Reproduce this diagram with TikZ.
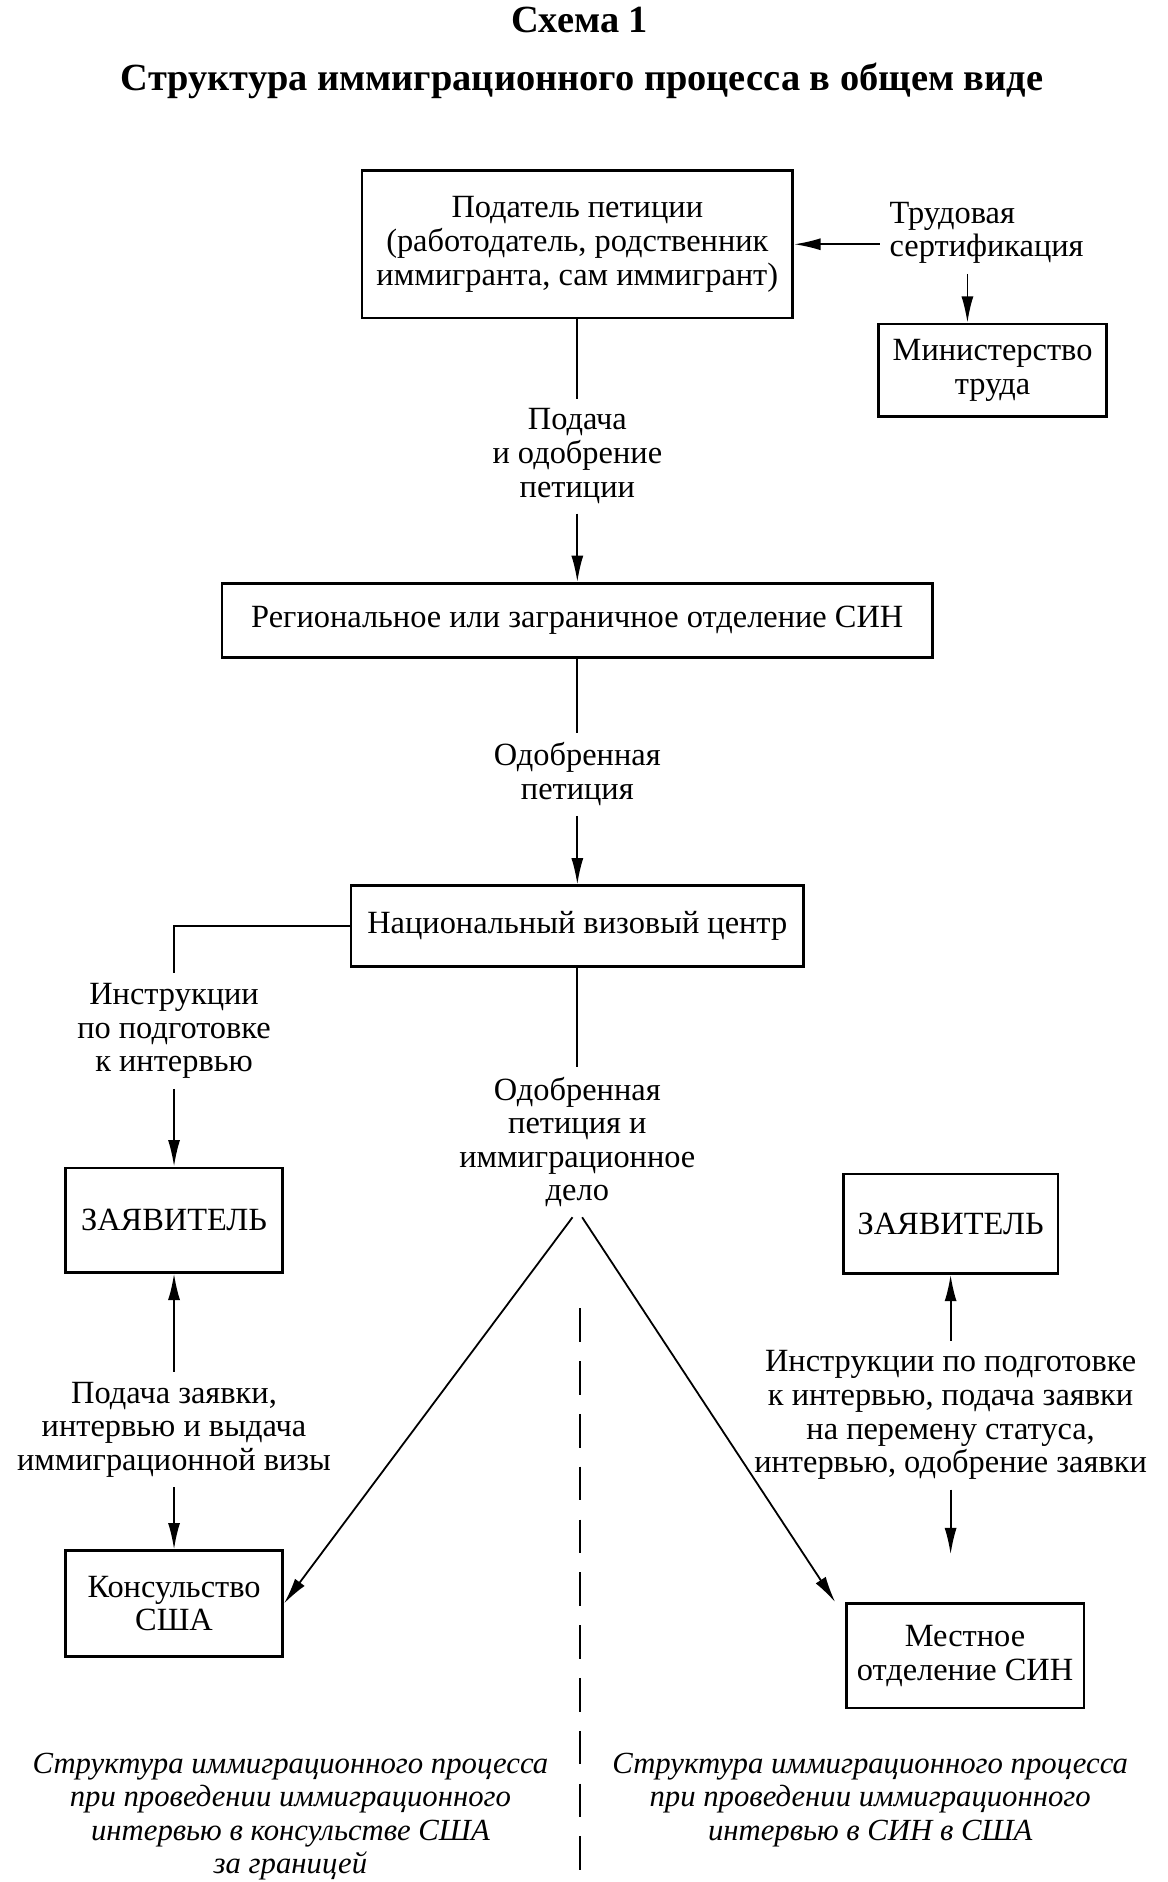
\documentclass[tikz,border=0pt]{standalone}
\usepackage{fontspec}
\setmainfont{Liberation Serif}
\usetikzlibrary{arrows.meta}

\begin{document}
\begin{tikzpicture}[x=0.5pt, y=-0.5pt,
    % Styles
    every node/.style={font=\fontsize{13.5}{14}\selectfont},
    box/.style={draw, line width=1.1pt, inner sep=0pt, align=center},
    lbl/.style={align=center, inner sep=4pt},
    link/.style={line width=0.75pt},
    arrow/.style={-{Latex[length=11pt,width=5pt]}, line width=0.75pt},
    note/.style={font=\fontsize{12.8}{14}\selectfont\itshape, align=center},
    head/.style={font=\fontsize{16}{19}\selectfont\bfseries},
]
\useasboundingbox (0,0) rectangle (973,1568);

% Title
\node[head] (num) at (483,17) {Схема 1};
\node[head] (title) at (485,67) {Структура иммиграционного процесса в общем виде};

% Petitioner and labour certification
\node[box, minimum width=179.5pt, minimum height=61.5pt] (petitioner) at (481,203.5) {Податель петиции\\(работодатель, родственник\\иммигранта, сам иммигрант)};
\node[lbl, align=left] (labcert) at (822,194) {Трудовая\\сертификация};
\node[box, minimum width=95pt, minimum height=38.5pt] (labdept) at (827,308.5) {Министерство\\труда};
\draw[arrow] (labcert.west |- petitioner.east) -- (petitioner.east);
\draw[arrow] ([xshift=-8pt]labcert.south) -- ([xshift=-8pt]labcert.south |- labdept.north);

% Petition to the INS office
\node[lbl] (submit) at (481,380) {Подача\\и одобрение\\петиции};
\draw[link] (petitioner) -- (submit);
\node[box, minimum width=296pt, minimum height=31pt] (regional) at (481,517) {Региональное или заграничное отделение СИН};
\draw[arrow] (submit) -- (regional);

% Approved petition to the visa centre
\node[lbl] (approved) at (481,645) {Одобренная\\петиция};
\draw[link] (regional) -- (approved);
\node[box, minimum width=188.5pt, minimum height=33.5pt] (nvc) at (481,771.5) {Национальный визовый центр};
\draw[arrow] (approved) -- (nvc);

% LEFT BRANCH: consulate abroad
\node[lbl] (instr) at (145,859) {Инструкции\\по подготовке\\к интервью};
\draw[link] (nvc.west) -| (instr);
\node[box, minimum width=90.5pt, minimum height=43.5pt] (applicantL) at (145,1016.5) {ЗАЯВИТЕЛЬ};
\draw[arrow] (instr) -- (applicantL);

\node[lbl] (visa) at (145,1191) {Подача заявки,\\интервью и выдача\\иммиграционной визы};
\draw[arrow] (visa) -- (applicantL);
\node[box, minimum width=90.5pt, minimum height=44pt] (consulate) at (145,1336) {Консульство\\США};
\draw[arrow] (visa) -- (consulate);

% Centre: petition and case split
\node[lbl] (case) at (481,951.5) {Одобренная\\петиция и\\иммиграционное\\дело};
\draw[link] (nvc) -- (case);
\draw[arrow] ([xshift=-2pt]case.south) -- (consulate.east);

% RIGHT BRANCH: INS office in the US
\node[box, minimum width=99pt, minimum height=43.5pt] (local) at (804,1379.5) {Местное\\отделение СИН};
\draw[arrow] ([xshift=2pt]case.south) -- ([xshift=-4pt]local.north west);

\node[box, minimum width=89.5pt, minimum height=41.5pt] (applicantR) at (792,1019.5) {ЗАЯВИТЕЛЬ};
\node[lbl] (status) at (792,1179) {Инструкции по подготовке\\к интервью, подача заявки\\на перемену статуса,\\интервью, одобрение заявки};
\draw[arrow] (status) -- (applicantR);
\coordinate (statusend) at (792,1295);
\draw[arrow] (status) -- (statusend);

% Divider
\coordinate (divtop) at (483,1090);
\coordinate (divbot) at (483,1568);
\draw[line width=0.8pt, dash pattern=on 14pt off 8pt] (divtop) -- (divbot);

% Notes
\node[note] (noteL) at (242,1513.5) {Структура иммиграционного процесса\\при проведении иммиграционного\\интервью в консульстве США\\за границей};
\node[note] (noteR) at (725,1499.5) {Структура иммиграционного процесса\\при проведении иммиграционного\\интервью в СИН в США};

\end{tikzpicture}
\end{document}
